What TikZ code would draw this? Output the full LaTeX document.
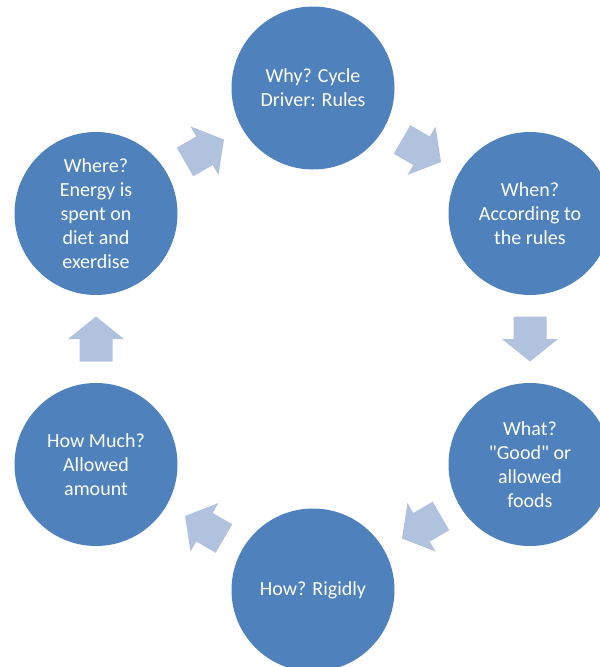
\documentclass[tikz,border=0pt]{standalone}
\usepackage{fontspec}
\setmainfont{Carlito}[Ligatures=TeXOff]
\usetikzlibrary{calc}
\definecolor{stageblue}{HTML}{4F81BD}
\definecolor{flowblue}{HTML}{B0C2DE}
\begin{document}
\begin{tikzpicture}[x=1pt,y=-1pt,
  stage/.style={circle, fill=stageblue, minimum size=163pt, inner sep=0pt,
    align=center, text=white, font=\fontsize{20}{24}\selectfont},
  flow/.style={fill=flowblue}]
\useasboundingbox (0,0) rectangle (600,667);
\clip (0,0) rectangle (600,667);
% six stages on a hexagon around (313,339)
\node[stage] (why)     at (313,88)    {Why? Cycle\\Driver: Rules};
\node[stage] (when)    at (530,213.5) {When?\\According to\\the rules};
\node[stage] (what)    at (530,464.5) {What?\\"Good" or\\allowed\\foods};
\node[stage] (how)     at (313,590)   {How? Rigidly};
\node[stage] (howmuch) at (96,464.5)  {How Much?\\Allowed\\amount};
\node[stage] (where)   at (96,213.5)  {Where?\\Energy is\\spent on\\diet and\\exerdise};
% block arrows halfway between neighbouring stages
\newcommand\flowarrow[3]{%
  \begin{scope}[shift={($(#1.center)!0.5!(#2.center)$)}, rotate=#3]
    \fill[flow] (-22.5,-16.5) -- (0,-16.5) -- (0,-28) -- (22.5,0)
      -- (0,28) -- (0,16.5) -- (-22.5,16.5) -- cycle;
  \end{scope}}
\flowarrow{why}{when}{-30}
\flowarrow{when}{what}{-90}
\flowarrow{what}{how}{-150}
\flowarrow{how}{howmuch}{150}
\flowarrow{howmuch}{where}{90}
\flowarrow{where}{why}{30}
\end{tikzpicture}
\end{document}
